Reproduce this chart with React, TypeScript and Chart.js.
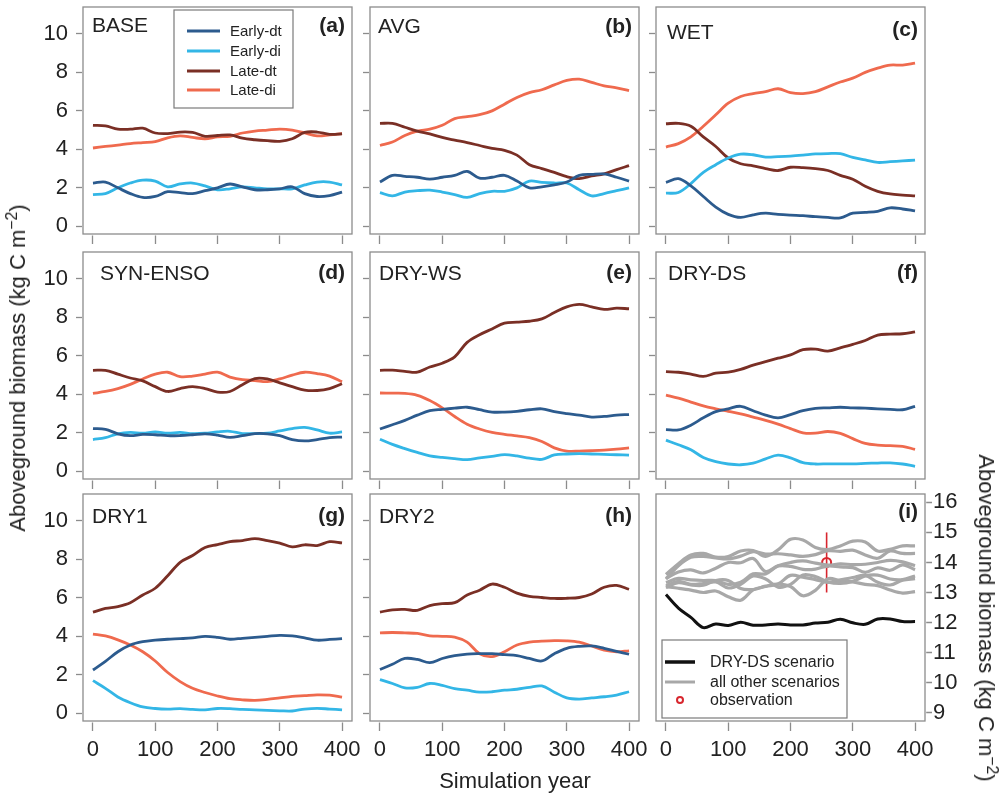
import React, { useEffect, useRef } from "react";
import { Chart, registerables } from "chart.js";

Chart.register(...registerables);

const FONT = '"Liberation Sans", Arial, Helvetica, sans-serif';
const TEXT = "#222222";
const FRAME = "#8c8c8c";

// Simulation years (20-year steps)
const years = [0, 20, 40, 60, 80, 100, 120, 140, 160, 180, 200, 220, 240, 260, 280, 300, 320, 340, 360, 380, 400];
const xTicks = [0, 100, 200, 300, 400];
const yTicks = [0, 2, 4, 6, 8, 10];
const totalTicks = [9, 10, 11, 12, 13, 14, 15, 16];

const pftNames = ["Early-dt", "Early-di", "Late-dt", "Late-di"];
const pftColors = ["#2c5b8e", "#33b6e6", "#7a2f25", "#ef6a4e"];

// BASE
const baseEarlyDt = [2.25, 2.3, 2.0, 1.7, 1.5, 1.55, 1.8, 1.75, 1.7, 1.85, 2.0, 2.2, 2.05, 1.9, 1.9, 1.95, 2.05, 1.7, 1.55, 1.6, 1.78];
const baseEarlyDi = [1.65, 1.7, 2.0, 2.25, 2.4, 2.35, 2.05, 2.2, 2.25, 2.1, 1.9, 1.95, 2.05, 2.0, 1.95, 1.95, 1.95, 2.15, 2.3, 2.3, 2.15];
const baseLateDt = [5.25, 5.22, 5.05, 5.05, 5.1, 4.85, 4.82, 4.9, 4.88, 4.68, 4.72, 4.75, 4.58, 4.5, 4.45, 4.42, 4.55, 4.88, 4.9, 4.78, 4.8];
const baseLateDi = [4.07, 4.15, 4.22, 4.3, 4.35, 4.4, 4.6, 4.7, 4.62, 4.55, 4.65, 4.68, 4.85, 4.95, 5.0, 5.05, 5.0, 4.85, 4.7, 4.75, 4.82];

// AVG
const avgEarlyDt = [2.3, 2.65, 2.6, 2.55, 2.45, 2.55, 2.65, 2.85, 2.5, 2.55, 2.65, 2.35, 2.0, 2.05, 2.15, 2.3, 2.65, 2.7, 2.72, 2.55, 2.35];
const avgEarlyDi = [1.75, 1.58, 1.78, 1.85, 1.88, 1.78, 1.65, 1.5, 1.7, 1.82, 1.82, 2.0, 2.35, 2.28, 2.25, 2.25, 1.9, 1.58, 1.7, 1.85, 2.0];
const avgLateDt = [5.35, 5.35, 5.15, 4.95, 4.8, 4.62, 4.48, 4.35, 4.2, 4.05, 3.95, 3.7, 3.2, 3.0, 2.8, 2.58, 2.48, 2.62, 2.72, 2.95, 3.15];
const avgLateDi = [4.2, 4.38, 4.72, 4.95, 5.05, 5.25, 5.6, 5.7, 5.8, 6.0, 6.35, 6.7, 6.95, 7.1, 7.35, 7.58, 7.65, 7.48, 7.3, 7.2, 7.05];

// WET
const wetEarlyDt = [2.28, 2.48, 2.1, 1.55, 1.0, 0.62, 0.46, 0.6, 0.68, 0.62, 0.58, 0.55, 0.5, 0.46, 0.44, 0.68, 0.72, 0.78, 0.96, 0.9, 0.8];
const wetEarlyDi = [1.72, 1.76, 2.22, 2.8, 3.2, 3.55, 3.75, 3.72, 3.6, 3.62, 3.65, 3.7, 3.76, 3.78, 3.78, 3.58, 3.45, 3.32, 3.36, 3.4, 3.44];
const wetLateDt = [5.33, 5.35, 5.2, 4.65, 4.15, 3.55, 3.25, 3.14, 3.0, 2.9, 3.07, 3.05, 3.0, 2.9, 2.65, 2.45, 2.08, 1.82, 1.68, 1.62, 1.58];
const wetLateDi = [4.12, 4.3, 4.65, 5.2, 5.8, 6.4, 6.75, 6.9, 7.0, 7.15, 6.95, 6.9, 7.0, 7.25, 7.5, 7.7, 8.0, 8.22, 8.38, 8.38, 8.48];

// SYN-ENSO
const ensoEarlyDt = [2.22, 2.18, 1.95, 1.85, 1.92, 1.9, 1.85, 1.86, 1.9, 1.95, 1.88, 1.76, 1.85, 1.96, 1.95, 1.85, 1.65, 1.58, 1.65, 1.75, 1.78];
const ensoEarlyDi = [1.65, 1.75, 1.95, 2.02, 1.98, 2.05, 1.98, 2.02, 1.96, 1.98, 2.05, 2.08, 1.96, 1.96, 1.98, 2.1, 2.22, 2.28, 2.15, 1.98, 2.05];
const ensoLateDt = [5.25, 5.25, 5.05, 4.85, 4.7, 4.4, 4.15, 4.3, 4.4, 4.3, 4.12, 4.15, 4.5, 4.82, 4.8, 4.6, 4.4, 4.22, 4.2, 4.3, 4.55];
const ensoLateDi = [4.05, 4.15, 4.3, 4.52, 4.8, 5.05, 5.15, 4.92, 4.95, 5.05, 5.15, 4.9, 4.76, 4.72, 4.66, 4.8, 5.0, 5.15, 5.08, 4.95, 4.65];

// DRY-WS
const dryWsEarlyDt = [2.2, 2.42, 2.65, 2.92, 3.15, 3.22, 3.28, 3.33, 3.2, 3.08, 3.08, 3.12, 3.2, 3.25, 3.1, 3.0, 2.92, 2.82, 2.85, 2.92, 2.95];
const dryWsEarlyDi = [1.67, 1.4, 1.18, 0.98, 0.8, 0.72, 0.66, 0.61, 0.7, 0.78, 0.87, 0.8, 0.68, 0.62, 0.85, 0.9, 0.92, 0.9, 0.88, 0.86, 0.84];
const dryWsLateDt = [5.25, 5.26, 5.2, 5.15, 5.42, 5.62, 5.95, 6.7, 7.1, 7.4, 7.7, 7.75, 7.8, 7.92, 8.25, 8.55, 8.68, 8.55, 8.42, 8.48, 8.45];
const dryWsLateDi = [4.07, 4.06, 4.05, 3.95, 3.68, 3.3, 2.85, 2.45, 2.2, 2.02, 1.92, 1.84, 1.75, 1.55, 1.22, 1.05, 1.05, 1.07, 1.1, 1.15, 1.22];

// DRY-DS
const dryDsEarlyDt = [2.17, 2.15, 2.4, 2.78, 3.1, 3.25, 3.38, 3.15, 2.92, 2.78, 2.95, 3.15, 3.27, 3.3, 3.33, 3.3, 3.28, 3.25, 3.22, 3.2, 3.38];
const dryDsEarlyDi = [1.62, 1.38, 1.12, 0.72, 0.5, 0.38, 0.34, 0.42, 0.65, 0.84, 0.7, 0.45, 0.38, 0.39, 0.39, 0.39, 0.41, 0.43, 0.44, 0.38, 0.26];
const dryDsLateDt = [5.18, 5.15, 5.05, 4.93, 5.1, 5.15, 5.3, 5.52, 5.7, 5.88, 6.05, 6.32, 6.35, 6.25, 6.42, 6.6, 6.8, 7.08, 7.13, 7.15, 7.25];
const dryDsLateDi = [3.96, 3.8, 3.6, 3.4, 3.25, 3.12, 2.99, 2.82, 2.65, 2.45, 2.22, 2.0, 1.98, 2.07, 1.97, 1.7, 1.45, 1.36, 1.33, 1.3, 1.14];

// DRY1
const dry1EarlyDt = [2.25, 2.7, 3.2, 3.55, 3.72, 3.8, 3.85, 3.88, 3.92, 4.0, 3.95, 3.85, 3.9, 3.95, 4.0, 4.05, 4.02, 3.92, 3.8, 3.84, 3.88];
const dry1EarlyDi = [1.7, 1.3, 0.85, 0.55, 0.33, 0.25, 0.22, 0.24, 0.2, 0.18, 0.25, 0.24, 0.2, 0.18, 0.15, 0.13, 0.12, 0.22, 0.26, 0.22, 0.18];
const dry1LateDt = [5.26, 5.45, 5.55, 5.75, 6.15, 6.5, 7.15, 7.85, 8.2, 8.62, 8.77, 8.92, 8.98, 9.08, 8.98, 8.85, 8.65, 8.76, 8.72, 8.92, 8.86];
const dry1LateDi = [4.12, 4.02, 3.82, 3.55, 3.2, 2.72, 2.12, 1.65, 1.3, 1.08, 0.9, 0.76, 0.7, 0.67, 0.72, 0.8, 0.88, 0.92, 0.96, 0.94, 0.84];

// DRY2
const dry2EarlyDt = [2.28, 2.55, 2.85, 2.8, 2.63, 2.85, 3.0, 3.08, 3.1, 3.1, 3.05, 3.0, 2.85, 2.72, 3.1, 3.38, 3.48, 3.5, 3.38, 3.22, 3.07];
const dry2EarlyDi = [1.75, 1.55, 1.32, 1.35, 1.55, 1.45, 1.28, 1.2, 1.1, 1.12, 1.2, 1.25, 1.35, 1.42, 1.1, 0.8, 0.74, 0.8, 0.86, 0.95, 1.12];
const dry2LateDt = [5.26, 5.38, 5.4, 5.35, 5.6, 5.7, 5.75, 6.15, 6.4, 6.72, 6.55, 6.25, 6.08, 6.02, 5.97, 5.98, 6.02, 6.2, 6.55, 6.65, 6.45];
const dry2LateDi = [4.18, 4.2, 4.18, 4.15, 4.03, 4.0, 3.96, 3.7, 3.1, 2.95, 3.2, 3.55, 3.7, 3.75, 3.78, 3.77, 3.7, 3.5, 3.28, 3.2, 3.25];

// Field observation of total aboveground biomass
const obsYear = [258];
const obsValue = [14.0];
const obsLow = [13.0];
const obsHigh = [15.0];

type Scenario = { name: string; tag: string; series: number[][] };

const scenarios: Scenario[] = [
  { name: "BASE", tag: "(a)", series: [baseEarlyDt, baseEarlyDi, baseLateDt, baseLateDi] },
  { name: "AVG", tag: "(b)", series: [avgEarlyDt, avgEarlyDi, avgLateDt, avgLateDi] },
  { name: "WET", tag: "(c)", series: [wetEarlyDt, wetEarlyDi, wetLateDt, wetLateDi] },
  { name: "SYN-ENSO", tag: "(d)", series: [ensoEarlyDt, ensoEarlyDi, ensoLateDt, ensoLateDi] },
  { name: "DRY-WS", tag: "(e)", series: [dryWsEarlyDt, dryWsEarlyDi, dryWsLateDt, dryWsLateDi] },
  { name: "DRY-DS", tag: "(f)", series: [dryDsEarlyDt, dryDsEarlyDi, dryDsLateDt, dryDsLateDi] },
  { name: "DRY1", tag: "(g)", series: [dry1EarlyDt, dry1EarlyDi, dry1LateDt, dry1LateDi] },
  { name: "DRY2", tag: "(h)", series: [dry2EarlyDt, dry2EarlyDi, dry2LateDt, dry2LateDi] },
];

// total biomass = sum over the four plant functional types
const totalOf = (s: Scenario) => years.map((_, i) => s.series.reduce((acc, arr) => acc + arr[i], 0));

// panel geometry (plot box positions on the page)
const COL_LEFT = [83, 370, 656];
const ROW_TOP = [7, 252, 494];
const BOX_W = 269;
const BOX_H = 227;
const PAD_L = 60;
const PAD_R = 60;
const PAD_T = 26;
const AXIS_B = 50;

type PanelSpec = {
  col: number;
  row: number;
  scenario?: Scenario;
  tag: string;
  titleDx: number;
  titleDy: number;
  tagDy: number;
};

const panels: PanelSpec[] = [
  { col: 0, row: 0, scenario: scenarios[0], tag: "(a)", titleDx: 9, titleDy: 25, tagDy: 25 },
  { col: 1, row: 0, scenario: scenarios[1], tag: "(b)", titleDx: 8, titleDy: 26, tagDy: 26 },
  { col: 2, row: 0, scenario: scenarios[2], tag: "(c)", titleDx: 11, titleDy: 32, tagDy: 29 },
  { col: 0, row: 1, scenario: scenarios[3], tag: "(d)", titleDx: 17, titleDy: 28, tagDy: 27 },
  { col: 1, row: 1, scenario: scenarios[4], tag: "(e)", titleDx: 9, titleDy: 28, tagDy: 27 },
  { col: 2, row: 1, scenario: scenarios[5], tag: "(f)", titleDx: 12, titleDy: 28, tagDy: 27 },
  { col: 0, row: 2, scenario: scenarios[6], tag: "(g)", titleDx: 9, titleDy: 29, tagDy: 28 },
  { col: 1, row: 2, scenario: scenarios[7], tag: "(h)", titleDx: 9, titleDy: 29, tagDy: 28 },
  { col: 2, row: 2, tag: "(i)", titleDx: 0, titleDy: 0, tagDy: 24 },
];

type LegendItem = { label: string; color: string; width: number; marker?: boolean };
type LegendSpec = {
  x: number; y: number; w: number; h: number;
  rows: number[]; lineX0: number; lineX1: number; textX: number; size: number;
  items: LegendItem[];
};

const pftLegend: LegendSpec = {
  x: 91, y: 3, w: 119, h: 98, rows: [24, 44, 64, 83], lineX0: 104, lineX1: 137, textX: 147, size: 15,
  items: pftNames.map((label, i) => ({ label, color: pftColors[i], width: 3 })),
};

const totalLegend: LegendSpec = {
  x: 6, y: 146, w: 185, h: 78, rows: [168, 188, 206], lineX0: 9, lineX1: 39, textX: 54, size: 16,
  items: [
    { label: "DRY-DS scenario", color: "#111111", width: 3.5 },
    { label: "all other scenarios", color: "#a8a8a8", width: 3 },
    { label: "observation", color: "#d8262e", width: 2, marker: true },
  ],
};

const panelDecor = {
  id: "panelDecor",
  afterDraw(chart: any, _args: any, opts: any) {
    const { ctx, chartArea: a } = chart;
    ctx.save();
    ctx.strokeStyle = FRAME;
    ctx.lineWidth = 1.3;
    ctx.strokeRect(a.left, a.top, a.right - a.left, a.bottom - a.top);
    ctx.fillStyle = TEXT;
    ctx.textBaseline = "alphabetic";
    if (opts.title) {
      ctx.font = `21px ${FONT}`;
      ctx.textAlign = "left";
      ctx.fillText(opts.title, a.left + opts.titleDx, a.top + opts.titleDy);
    }
    ctx.font = `bold 21px ${FONT}`;
    ctx.textAlign = "right";
    ctx.fillText(opts.tag, a.right - 7, a.top + opts.tagDy);

    const lg: LegendSpec | undefined = opts.legend;
    if (lg) {
      ctx.fillStyle = "#ffffff";
      ctx.fillRect(a.left + lg.x, a.top + lg.y, lg.w, lg.h);
      ctx.strokeStyle = "#7a7a7a";
      ctx.lineWidth = 1.2;
      ctx.strokeRect(a.left + lg.x, a.top + lg.y, lg.w, lg.h);
      ctx.font = `${lg.size}px ${FONT}`;
      ctx.textAlign = "left";
      ctx.textBaseline = "middle";
      lg.items.forEach((it, i) => {
        const y = a.top + lg.rows[i];
        if (it.marker) {
          ctx.beginPath();
          ctx.arc(a.left + (lg.lineX0 + lg.lineX1) / 2, y, 3, 0, Math.PI * 2);
          ctx.strokeStyle = it.color;
          ctx.lineWidth = it.width;
          ctx.stroke();
        } else {
          ctx.beginPath();
          ctx.moveTo(a.left + lg.lineX0, y);
          ctx.lineTo(a.left + lg.lineX1, y);
          ctx.strokeStyle = it.color;
          ctx.lineWidth = it.width;
          ctx.stroke();
        }
        ctx.fillStyle = TEXT;
        ctx.fillText(it.label, a.left + lg.textX, y + 1);
      });
    }
    ctx.restore();
  },
};

const tickFont = { family: FONT, size: 22 };

function buildConfig(spec: PanelSpec): any {
  const isTotal = !spec.scenario;
  const line = (data: { x: number; y: number }[], color: string, width: number) => ({
    data,
    borderColor: color,
    borderWidth: width,
    pointRadius: 0,
    tension: 0.35,
    fill: false,
    borderJoinStyle: "round",
  });

  let datasets: any[];
  if (isTotal) {
    const others = scenarios.filter((s) => s.name !== "DRY-DS");
    const dryDs = scenarios.find((s) => s.name === "DRY-DS")!;
    datasets = [
      ...others.map((s) => ({ label: s.name, ...line(years.map((x, i) => ({ x, y: totalOf(s)[i] })), "#a8a8a8", 3.2) })),
      { label: "DRY-DS", ...line(years.map((x, i) => ({ x, y: totalOf(dryDs)[i] })), "#111111", 3) },
      {
        label: "obs-range",
        ...line([{ x: obsYear[0], y: obsLow[0] }, { x: obsYear[0], y: obsHigh[0] }], "#d8262e", 1.6),
        tension: 0,
      },
      {
        label: "observation",
        data: obsYear.map((x, i) => ({ x, y: obsValue[i] })),
        showLine: false,
        pointRadius: 4.5,
        pointBorderWidth: 2,
        pointBorderColor: "#d8262e",
        pointBackgroundColor: "rgba(255,255,255,0)",
      },
    ];
  } else {
    datasets = spec.scenario!.series.map((vals, i) => ({
      label: pftNames[i],
      ...line(years.map((x, j) => ({ x, y: vals[j] })), pftColors[i], 2.8),
    }));
  }

  const showX = spec.row === 2;
  const xScale = {
    type: "linear",
    min: -16,
    max: 416,
    afterBuildTicks: (s: any) => {
      s.ticks = xTicks.map((v) => ({ value: v }));
    },
    afterFit: (s: any) => {
      s.height = AXIS_B;
    },
    border: { display: false },
    grid: {
      display: true,
      drawOnChartArea: false,
      drawTicks: true,
      tickLength: 10,
      tickColor: FRAME,
      tickWidth: 1.3,
      tickBorderDash: [0, 1.5, 8.5, 40],
    },
    ticks: {
      display: showX,
      autoSkip: false,
      maxRotation: 0,
      padding: 6,
      color: TEXT,
      font: tickFont,
      callback: (v: number) => String(v),
    },
  };

  const yScale = isTotal
    ? {
        type: "linear",
        position: "right",
        min: 8.72,
        max: 16.28,
        afterBuildTicks: (s: any) => {
          s.ticks = totalTicks.map((v) => ({ value: v }));
        },
        afterFit: (s: any) => {
          s.width = PAD_R;
        },
        border: { display: false },
        grid: {
          display: true,
          drawOnChartArea: false,
          drawTicks: true,
          tickLength: 7,
          tickColor: FRAME,
          tickWidth: 1.3,
          tickBorderDash: [0, 1.2, 5.8, 40],
        },
        ticks: { padding: 1, color: TEXT, font: tickFont, callback: (v: number) => String(v) },
      }
    : {
        type: "linear",
        position: "left",
        min: -0.4,
        max: 11.4,
        afterBuildTicks: (s: any) => {
          s.ticks = yTicks.map((v) => ({ value: v }));
        },
        afterFit: (s: any) => {
          s.width = PAD_L;
        },
        border: { display: false },
        grid: {
          display: true,
          drawOnChartArea: false,
          drawTicks: true,
          tickLength: 7,
          tickColor: FRAME,
          tickWidth: 1.3,
          tickBorderDash: [6, 40],
        },
        ticks: {
          display: spec.col === 0,
          padding: 8,
          color: TEXT,
          font: tickFont,
          callback: (v: number) => String(v),
        },
      };

  return {
    type: "line",
    data: { datasets },
    options: {
      responsive: false,
      animation: false,
      events: [],
      layout: {
        padding: {
          left: isTotal ? PAD_L : 0,
          right: isTotal ? 0 : PAD_R,
          top: PAD_T,
          bottom: 0,
        },
      },
      scales: { x: xScale, y: yScale },
      plugins: {
        legend: { display: false },
        tooltip: { enabled: false },
        panelDecor: {
          title: spec.scenario ? spec.scenario.name : "",
          tag: spec.tag,
          titleDx: spec.titleDx,
          titleDy: spec.titleDy,
          tagDy: spec.tagDy,
          legend: isTotal ? totalLegend : spec.col === 0 && spec.row === 0 ? pftLegend : undefined,
        },
      },
    },
    plugins: [panelDecor],
  };
}

const CANVAS_W = PAD_L + BOX_W + PAD_R;
const CANVAS_H = PAD_T + BOX_H + AXIS_B;

function PanelChart({ spec }: { spec: PanelSpec }) {
  const ref = useRef<HTMLCanvasElement>(null);
  useEffect(() => {
    const chart = new Chart(ref.current as HTMLCanvasElement, buildConfig(spec));
    return () => chart.destroy();
  }, [spec]);
  return (
    <canvas
      ref={ref}
      width={CANVAS_W}
      height={CANVAS_H}
      style={{
        position: "absolute",
        left: COL_LEFT[spec.col] - PAD_L,
        top: ROW_TOP[spec.row] - PAD_T,
        width: CANVAS_W,
        height: CANVAS_H,
      }}
    />
  );
}

const axisText: React.CSSProperties = {
  position: "absolute",
  font: `22px ${FONT}`,
  color: TEXT,
  whiteSpace: "nowrap",
  lineHeight: "26px",
};

export default function App() {
  return (
    <div style={{ position: "absolute", left: 0, top: 0, width: 1003, height: 796, background: "#ffffff", overflow: "hidden" }}>
      {panels.map((p) => (
        <PanelChart key={p.tag} spec={p} />
      ))}
      <div style={{ ...axisText, left: 18, top: 368, transform: "translate(-50%, -50%) rotate(-90deg)" }}>
        Aboveground biomass (kg C m<sup style={{ fontSize: "0.72em", lineHeight: 0 }}>−2</sup>)
      </div>
      <div style={{ ...axisText, left: 986, top: 618, transform: "translate(-50%, -50%) rotate(90deg)" }}>
        Aboveground biomass (kg C m<sup style={{ fontSize: "0.72em", lineHeight: 0 }}>−2</sup>)
      </div>
      <div style={{ ...axisText, left: 515, top: 781, transform: "translate(-50%, -50%)" }}>Simulation year</div>
    </div>
  );
}
